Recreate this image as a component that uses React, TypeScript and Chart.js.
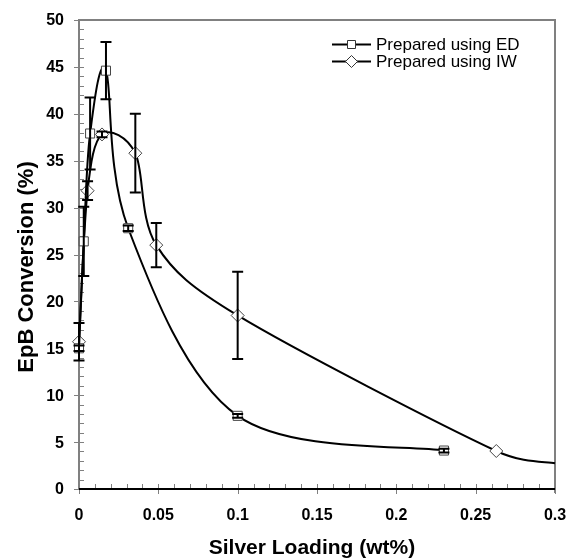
import React, { useEffect, useRef } from "react";
import { Chart, registerables } from "chart.js";

Chart.register(...registerables);

// ---- data ----
const edX = [0, 0.003, 0.007, 0.017, 0.031, 0.1, 0.23];
const edY = [15.0, 26.4, 37.9, 44.6, 27.8, 7.8, 4.1];
const edErr = [0.3, 3.7, 3.85, 3.05, 0.3, 0.2, 0.2];

const iwX = [0, 0.0054, 0.0145, 0.0355, 0.0487, 0.1, 0.263, 0.3];
const iwY = [15.7, 31.8, 37.8, 35.8, 26.0, 18.5, 4.05, 2.75];
const iwErr = [2.0, 1.0, 0.3, 4.2, 2.35, 4.65, 0, 0];
const iwShown = [true, true, true, true, true, true, true, false];

const xTickValues = [0, 0.05, 0.1, 0.15, 0.2, 0.25, 0.3];
const xTickLabels = ["0", "0.05", "0.1", "0.15", "0.2", "0.25", "0.3"];
const yTickValues = [0, 5, 10, 15, 20, 25, 30, 35, 40, 45, 50];
const yTickLabels = ["0", "5", "10", "15", "20", "25", "30", "35", "40", "45", "50"];

const seriesNames = ["Prepared using ED", "Prepared using IW"];
const xTitle = "Silver Loading (wt%)";
const yTitle = "EpB Conversion (%)";

const FONT = "Arial, 'Liberation Sans', sans-serif";
const GRAY = "#808080";

// Excel-style smoothed line: Bezier control points from neighbours (1/6 rule)
function excelSmooth(pts: any[]) {
  const n = pts.length;
  const dist = (a: any, b: any) => Math.hypot(b.x - a.x, b.y - a.y);
  for (let i = 0; i < n - 1; i++) {
    const p0 = pts[i - 1] || pts[i];
    const p1 = pts[i];
    const p2 = pts[i + 1];
    const p3 = pts[i + 2] || pts[i + 1];
    const d12 = dist(p1, p2);
    const d02 = dist(p0, p2);
    const d13 = dist(p1, p3);
    let f0 = 1 / 6;
    let f1 = 1 / 6;
    if (d02 * f0 > d12 / 2 && d02 > 0) f0 = d12 / 2 / d02;
    if (d13 * f1 > d12 / 2 && d13 > 0) f1 = d12 / 2 / d13;
    p1.cp2x = p1.x + (p2.x - p0.x) * f0;
    p1.cp2y = p1.y + (p2.y - p0.y) * f0;
    p2.cp1x = p2.x - (p3.x - p1.x) * f1;
    p2.cp1y = p2.y - (p3.y - p1.y) * f1;
  }
  if (n) {
    pts[0].cp1x = pts[0].x;
    pts[0].cp1y = pts[0].y;
    pts[n - 1].cp2x = pts[n - 1].x;
    pts[n - 1].cp2y = pts[n - 1].y;
  }
}

const customPlugin = {
  id: "customDecor",
  beforeDatasetsDraw(chart: any) {
    // smoothing
    chart.getSortedVisibleDatasetMetas().forEach((meta: any) => {
      const line = meta.dataset;
      if (line && line.updateControlPoints) line.updateControlPoints(chart.chartArea, "x");
      excelSmooth(meta.data);
      if (line) {
        line._pointsUpdated = true;
        line._path = undefined;
      }
    });

    const ctx = chart.ctx;
    const a = chart.chartArea;
    const xs = chart.scales.x;
    const ys = chart.scales.y;
    ctx.save();
    // borders
    ctx.strokeStyle = GRAY;
    ctx.lineWidth = 2;
    ctx.beginPath();
    ctx.moveTo(a.left, a.bottom);
    ctx.lineTo(a.left, a.top);
    ctx.lineTo(a.right, a.top);
    ctx.lineTo(a.right, a.bottom + 4);
    ctx.stroke();
    // y ticks
    ctx.lineWidth = 1;
    for (let v = 0; v <= 50; v += 1) {
      const y = Math.round(ys.getPixelForValue(v)) + 0.5;
      const major = v % 5 === 0;
      ctx.beginPath();
      ctx.moveTo(a.left - (major ? 5 : 0), y);
      ctx.lineTo(a.left + 5, y);
      ctx.stroke();
    }
    // x ticks
    for (let i = 0; i <= 30; i++) {
      const v = i / 100;
      const x = Math.round(xs.getPixelForValue(v)) + 0.5;
      const major = i % 5 === 0;
      ctx.beginPath();
      ctx.moveTo(x, a.bottom - 5);
      ctx.lineTo(x, a.bottom + (major ? 5 : 0));
      ctx.stroke();
    }
    // bottom axis
    ctx.strokeStyle = "#000";
    ctx.lineWidth = 2;
    ctx.beginPath();
    ctx.moveTo(a.left, a.bottom);
    ctx.lineTo(a.right, a.bottom);
    ctx.stroke();
    ctx.restore();
  },
  afterDatasetsDraw(chart: any) {
    const ctx = chart.ctx;
    const xs = chart.scales.x;
    const ys = chart.scales.y;
    const a = chart.chartArea;
    ctx.save();
    // error bars
    ctx.strokeStyle = "#000";
    ctx.lineWidth = 2;
    const drawErr = (xa: number[], ya: number[], ea: number[]) => {
      for (let i = 0; i < xa.length; i++) {
        if (!ea[i]) continue;
        const x = xs.getPixelForValue(xa[i]);
        const y1 = ys.getPixelForValue(ya[i] + ea[i]);
        const y2 = ys.getPixelForValue(ya[i] - ea[i]);
        ctx.beginPath();
        ctx.moveTo(x, y1);
        ctx.lineTo(x, y2);
        ctx.moveTo(x - 5.5, y1);
        ctx.lineTo(x + 5.5, y1);
        ctx.moveTo(x - 5.5, y2);
        ctx.lineTo(x + 5.5, y2);
        ctx.stroke();
      }
    };
    drawErr(edX, edY, edErr);
    drawErr(iwX, iwY, iwErr);

    // tick labels
    ctx.fillStyle = "#000";
    ctx.font = `bold 16px ${FONT}`;
    ctx.textAlign = "right";
    ctx.textBaseline = "middle";
    yTickValues.forEach((v, i) => {
      ctx.fillText(yTickLabels[i], a.left - 15, ys.getPixelForValue(v) + 1);
    });
    ctx.textAlign = "center";
    xTickValues.forEach((v, i) => {
      ctx.fillText(xTickLabels[i], xs.getPixelForValue(v), 516);
    });

    // axis titles
    ctx.font = `bold 21px ${FONT}`;
    ctx.fillText(xTitle, 312, 548);
    ctx.save();
    ctx.translate(27, 267);
    ctx.rotate(-Math.PI / 2);
    ctx.font = `bold 22px ${FONT}`;
    ctx.fillText(yTitle, 0, 0);
    ctx.restore();

    // legend
    const rows = [44.5, 61.5];
    ctx.font = `17px ${FONT}`;
    ctx.textAlign = "left";
    rows.forEach((y, i) => {
      ctx.strokeStyle = "#000";
      ctx.lineWidth = 2;
      ctx.beginPath();
      ctx.moveTo(332, y);
      ctx.lineTo(371, y);
      ctx.stroke();
      ctx.fillStyle = "#fff";
      ctx.strokeStyle = "#333";
      ctx.lineWidth = 1;
      ctx.beginPath();
      if (i === 0) {
        ctx.rect(347.5, y - 4, 8, 8);
      } else {
        ctx.moveTo(345.5, y);
        ctx.lineTo(351.5, y - 6);
        ctx.lineTo(357.5, y);
        ctx.lineTo(351.5, y + 6);
        ctx.closePath();
      }
      ctx.fill();
      ctx.stroke();
      ctx.fillStyle = "#000";
      ctx.fillText(seriesNames[i], 376, y + 1);
    });
    ctx.restore();
  },
};

export default function App() {
  const ref = useRef<HTMLCanvasElement | null>(null);
  useEffect(() => {
    if (!ref.current) return;
    const chart = new Chart(ref.current, {
      type: "line",
      data: {
        datasets: [
          {
            label: seriesNames[0],
            data: edX.map((x, i) => ({ x, y: edY[i] })),
            borderColor: "#000",
            borderWidth: 2,
            backgroundColor: "#fff",
            pointStyle: "rect",
            pointRadius: 6.4,
            pointBorderColor: "#444",
            pointBorderWidth: 1,
            pointBackgroundColor: "#fff",
            tension: 0.4,
            capBezierPoints: false,
            clip: false as any,
          },
          {
            label: seriesNames[1],
            data: iwX.map((x, i) => ({ x, y: iwY[i] })),
            borderColor: "#000",
            borderWidth: 2,
            backgroundColor: "#fff",
            pointStyle: "rectRot",
            pointRadius: iwShown.map((s) => (s ? 6.5 : 0)),
            pointBorderColor: "#444",
            pointBorderWidth: 1,
            pointBackgroundColor: "#fff",
            tension: 0.4,
            capBezierPoints: false,
            clip: false as any,
          },
        ],
      },
      options: {
        responsive: false,
        animation: false,
        devicePixelRatio: 1,
        layout: { padding: { left: 79, right: 14, top: 20, bottom: 71 } },
        plugins: { legend: { display: false }, tooltip: { enabled: false } },
        scales: {
          x: { type: "linear", min: 0, max: 0.3, display: false },
          y: { type: "linear", min: 0, max: 50, display: false },
        },
      },
      plugins: [customPlugin],
    });
    return () => chart.destroy();
  }, []);
  return (
    <div style={{ position: "fixed", left: 0, top: 0, width: 569, height: 560, background: "#fff" }}>
      <canvas ref={ref} width={569} height={560} style={{ display: "block" }} />
    </div>
  );
}
